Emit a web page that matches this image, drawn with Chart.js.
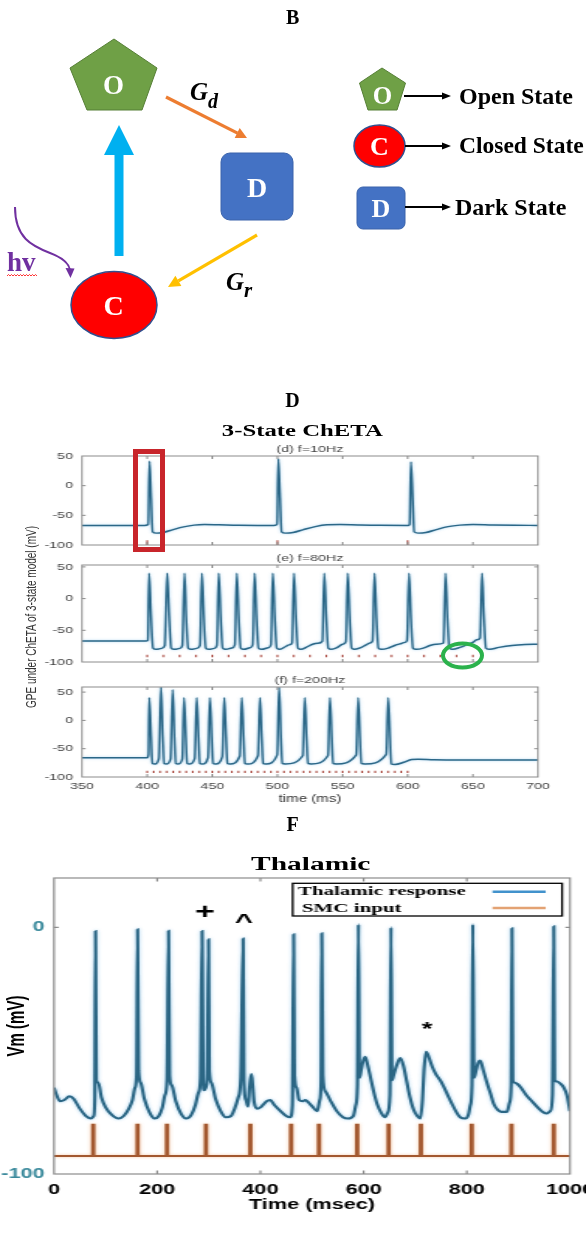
<!DOCTYPE html>
<html>
<head>
<meta charset="utf-8">
<script src="https://cdn.jsdelivr.net/npm/chart.js@4.4.1/dist/chart.umd.min.js"></script>
<style>
  html, body { margin:0; padding:0; background:#fff; }
  #page { position:relative; width:586px; height:1243px; overflow:hidden; background:#fff; }
  #page canvas { position:absolute; left:0; transform-origin:0 0; }
  #overlay { position:absolute; left:0; top:0; pointer-events:none; }
</style>
</head>
<body>
<div id="page">
  <canvas id="c10" width="390" height="112" style="top:440px;transform:scaleX(1.5)"></canvas>
  <canvas id="c80" width="390" height="121" style="top:548px;transform:scaleX(1.5)"></canvas>
  <canvas id="c200" width="390" height="139" style="top:669px;transform:scaleX(1.5)"></canvas>
  <canvas id="cth" width="378" height="385" style="top:840px;transform:scaleX(1.55)"></canvas>

  <svg id="overlay" width="586" height="1243" viewBox="0 0 586 1243" xmlns="http://www.w3.org/2000/svg">
    <g font-family="'Liberation Serif','Times New Roman',serif" font-weight="bold">
      <text x="292.6" y="23.5" font-size="20" text-anchor="middle">B</text>
      <text x="292.6" y="407" font-size="20" text-anchor="middle">D</text>
      <text x="292.6" y="831" font-size="20" text-anchor="middle">F</text>

      <!-- state diagram -->
      <polygon points="114,39 157,68 142,110 87,110 70,68" fill="#6fa046" stroke="#557f35" stroke-width="1"/>
      <text x="113.5" y="93.5" font-size="27" fill="#fff" text-anchor="middle">O</text>
      <line x1="166" y1="97" x2="237.5" y2="133.1" stroke="#ed7d31" stroke-width="3.2"/>
      <polygon points="247,138 234.7,137.9 239.7,128.1" fill="#ed7d31"/>
      <text x="190" y="100" font-size="25" font-style="italic">G<tspan font-size="20" dy="8">d</tspan></text>

      <rect x="221" y="153" width="72" height="67" rx="9" fill="#4472c4" stroke="#3a63ab" stroke-width="1"/>
      <text x="257" y="196.5" font-size="28" fill="#fff" text-anchor="middle">D</text>
      <line x1="257" y1="235" x2="178.4" y2="280.9" stroke="#ffc000" stroke-width="3.2"/>
      <polygon points="168,287 175.4,275.8 181.4,286.1" fill="#ffc000"/>
      <text x="226" y="290" font-size="25" font-style="italic">G<tspan font-size="21" dy="7">r</tspan></text>

      <polygon points="114.5,256 114.5,155 104,155 119,125 134,155 123.5,155 123.5,256" fill="#00b0f0"/>
      <ellipse cx="114" cy="305" rx="43" ry="33.5" fill="#ff0000" stroke="#2f4f8f" stroke-width="1.5"/>
      <text x="113.5" y="315" font-size="28" fill="#fff" text-anchor="middle">C</text>

      <path d="M15,207 C15,238 32,246 50,253 C63,258 69,263 70,270" fill="none" stroke="#7030a0" stroke-width="2"/>
      <polygon points="65.5,268 74.5,268.5 70.5,278" fill="#7030a0"/>
      <text x="7" y="271" font-size="27" fill="#7030a0">hv</text>
      <path d="M7,276 l1.5,-1.5 l1.5,1.5 l1.5,-1.5 l1.5,1.5 l1.5,-1.5 l1.5,1.5 l1.5,-1.5 l1.5,1.5 l1.5,-1.5 l1.5,1.5 l1.5,-1.5 l1.5,1.5 l1.5,-1.5 l1.5,1.5 l1.5,-1.5 l1.5,1.5 l1.5,-1.5 l1.5,1.5 l1.5,-1.5 l1.5,1.5" fill="none" stroke="#ff0000" stroke-width="0.8"/>

      <!-- diagram legend -->
      <polygon points="382,68 405.5,83 397,110 368,110 359.5,83" fill="#6fa046" stroke="#557f35" stroke-width="1"/>
      <text x="382.5" y="104" font-size="25" fill="#fff" text-anchor="middle">O</text>
      <line x1="404" y1="96" x2="443" y2="96" stroke="#000" stroke-width="2"/>
      <polygon points="442,92.5 451,96 442,99.5" fill="#000"/>
      <text x="459" y="104" font-size="24">Open State</text>

      <ellipse cx="379.5" cy="146" rx="25.5" ry="21" fill="#ff0000" stroke="#2f4f8f" stroke-width="1.5"/>
      <text x="379.5" y="155" font-size="26" fill="#fff" text-anchor="middle">C</text>
      <line x1="405" y1="146" x2="443" y2="146" stroke="#000" stroke-width="2"/>
      <polygon points="442,142.5 451,146 442,149.5" fill="#000"/>
      <text x="459" y="153.3" font-size="23.5">Closed State</text>

      <rect x="357" y="187" width="48" height="42" rx="6" fill="#4472c4" stroke="#3a63ab" stroke-width="1"/>
      <text x="381" y="217" font-size="26" fill="#fff" text-anchor="middle">D</text>
      <line x1="405" y1="207" x2="443" y2="207" stroke="#000" stroke-width="2"/>
      <polygon points="442,203.5 451,207 442,210.5" fill="#000"/>
      <text x="455" y="215" font-size="24">Dark State</text>

      <!-- chart titles -->
      <text transform="translate(302.3,436) scale(1.5,1)" text-anchor="middle" font-size="16.5">3-State ChETA</text>
      <text transform="translate(310.7,870) scale(1.55,1)" text-anchor="middle" font-size="19">Thalamic</text>
    </g>
    <g font-family="'Liberation Sans',Arial,sans-serif">
      <text transform="translate(31,617) scale(1.5,1) rotate(-90)" text-anchor="middle" dominant-baseline="central" font-size="10" fill="#333">GPE under ChETA of 3-state model (mV)</text>
      <text transform="translate(16,1026) scale(1.55,1) rotate(-90)" text-anchor="middle" dominant-baseline="central" font-size="15" font-weight="bold" fill="#000">Vm (mV)</text>
    </g>
    <!-- highlight marks -->
    <rect x="135.5" y="451.5" width="27" height="98" fill="none" stroke="#c8252b" stroke-width="5"/>
    <ellipse cx="462.5" cy="655.5" rx="19.5" ry="12" fill="none" stroke="#2bb24c" stroke-width="4"/>
  </svg>
</div>

<script>
// ================= DATA =================
// Panel D: tick labels
const dTimeTicks = [350, 400, 450, 500, 550, 600, 650, 700];
const dVoltTicks = [-100, -50, 0, 50];

// (d) f = 10 Hz  [time ms, Vm mV]
const trace10Hz = [
  [350,-67],[398,-67],[400.8,-65],[401.8,41],[403,-20],[404.2,-78],[407,-80],[412,-79],
  [420,-74],[428,-69.5],[436,-66.5],[444,-65.5],[455,-66],[470,-66.8],[485,-67],[497.5,-67],
  [499.7,-65],[500.7,45],[502,-20],[503.2,-78],[506,-80],[512,-79],[520,-74],[529,-69],
  [538,-66],[548,-65.5],[562,-66.2],[578,-66.8],[600.5,-67],[601.5,-65],[602.5,40],[603.8,-20],
  [605,-78],[608,-80],[614,-79],[622,-74],[631,-69],[640,-66.5],[650,-65.5],[665,-66.3],
  [682,-66.8],[700,-67]
];
const stim10Hz = [400, 500, 600];

// (e) f = 80 Hz
const trace80Hz = [
  [350,-67],[399,-67],[400.5,-66],[401.5,40],[403,-30],[404.5,-78],[407,-80],[411,-78.5],[413.5,-74],
  [415.4,40],[417,-30],[418.5,-78],[421,-80],[425,-78.5],[427,-74],
  [428.7,40],[430,-30],[431.5,-78],[434,-80],[438,-78.5],[440.5,-74],
  [442,40],[443.5,-30],[445,-78],[447.5,-80],[451.5,-78.5],[453.5,-74],
  [455,40],[456.5,-30],[458,-78],[460.5,-80],[465,-78],[467.3,-73],
  [468.8,40],[470.3,-30],[471.8,-78],[474.3,-80],[479,-77.5],[481,-73],
  [482.5,40],[484,-30],[485.5,-78],[488,-80],[493,-77.5],[495,-73],
  [496.5,40],[498,-30],[499.5,-78],[502,-80],[506,-76],[509,-73],[511.2,-70],
  [512.7,40],[514.2,-30],[515.7,-78],[518.2,-80],[522,-77],[527,-72],[531,-70.5],[534.5,-67],
  [536,40],[537.5,-30],[539,-78],[541.5,-80],[546,-77],[550,-72],[552.5,-68],
  [554,40],[555.5,-30],[557,-78],[559.5,-80],[564,-77.5],[568,-73],[571,-70],[573,-67],
  [574.5,40],[576,-30],[577.5,-78],[580,-80],[585,-78],[590,-74],[594,-71.5],[598,-69],[599.5,-66],
  [601,40],[602.5,-30],[604,-78],[606.5,-80],[612,-78],[617,-74],[622,-72],[627.5,-70],
  [629,40],[630.5,-30],[632,-78],[634.5,-80],[640,-77],[645,-73],[650,-69],[653,-65],[655.5,-62],
  [657,40],[658.5,-30],[660,-78],[663,-80],[670,-77],[680,-74],[690,-72.5],[700,-72]
];
const stim80Hz = [400, 412.5, 425, 437.5, 450, 462.5, 475, 487.5, 500, 512.5, 525,
                  537.5, 550, 562.5, 575, 587.5, 600, 612.5, 625, 637.5, 650];

// (f) f = 200 Hz
const trace200Hz = [
  [350,-66],[400,-66],[401,-60],[401.6,40],[403,-30],[404,-76],[406,-77],[409,-67],
  [410.6,59],[412,-30],[413,-76],[415,-77],[418,-68],
  [419.6,54],[421,-30],[422,-76],[424,-77],[427,-68],
  [428.3,40],[429.7,-30],[430.7,-76],[432.7,-77],[436.5,-67],
  [438,40],[439.4,-30],[440.4,-76],[442.4,-77],[446.7,-66],
  [448.2,40],[449.6,-30],[450.6,-76],[452.6,-77],[457.7,-64],
  [459.2,40],[460.6,-30],[461.6,-76],[463.6,-77],[471.1,-63],
  [472.6,40],[474,-30],[475,-76],[477,-77],[485.1,-62],
  [486.6,40],[488,-30],[489,-76],[491,-77],[499.8,-61],
  [501.3,59],[502.7,-30],[503.7,-76],[506,-77],[519.5,-62],
  [521,40],[522.4,-30],[523.4,-76],[526,-77],[538.8,-62],
  [540.3,40],[541.7,-30],[542.7,-76],[545,-77],[560.5,-61],
  [562,40],[563.4,-30],[564.4,-76],[567,-77],[583.5,-60],
  [585,40],[586.4,-30],[587.4,-77],[590,-78],[597,-74],[603,-69],[608,-68.5],[620,-69.5],
  [640,-70],[670,-70],[700,-70]
];
const stim200Hz = [400,405,410,415,420,425,430,435,440,445,450,455,460,465,470,475,480,485,490,495,
                   500,505,510,515,520,525,530,535,540,545,550,555,560,565,570,575,580,585,590,595,600];

// stimulus mark extents [from, to] in mV
const stimSpan10 = [-100, -92];
const stimSpan80 = [-92.5, -88.5];
const stimSpan200 = [-93, -89];

// Panel F
const fTimeTicks = [0, 200, 400, 600, 800, 1000];
const fVoltTicks = [-100, 0];
const thalamicTrace = [
  [0,-65],[5,-68],[12,-70.5],[20,-70],[30,-68.5],[38,-69.5],[50,-73.5],[62,-76.5],[72,-77.5],[77,-76.5],
  [79,-70],[80.5,-1.5],[82,-62],[86,-63],[92,-69],[100,-73],[112,-76],[125,-77.5],[135,-76.5],[145,-73.5],
  [152,-70],[157,-65],[160,-60],[162,-0.8],[164,-58],[168,-63],[175,-69.5],[185,-75],[195,-77.5],[203,-76.5],
  [210,-73],[215,-68],[219,-62],[222,-1.4],[224,-60],[228,-64],[236,-70.5],[246,-75.5],[256,-77.5],[266,-76],
  [274,-72],[280,-67],[284,-61],[287,-1.5],[289,-62],[291,-66],[294,-65],[297,-60],[299.5,-4.9],[301,-58],
  [305,-63],[313,-69.5],[323,-74.5],[333,-77],[343,-76.5],[350,-73.5],[357,-69],[362,-61],[366.5,-4.5],[368,-62],
  [372,-70],[376,-72.7],[379,-65],[382.5,-59.5],[385,-64],[388,-71],[394,-73.5],[400,-73],[405,-72],[412,-70.5],
  [419,-70],[427,-72],[439,-74.5],[450,-76.5],[458,-77],[462,-72],[464.5,-2.8],[466,-60],[470,-65],[475,-70],
  [482,-70.5],[487,-70],[493,-71],[500,-72.5],[510,-74.5],[515,-70],[517.5,-63],[519,-2.4],[521,-60],[526,-66.5],
  [535,-70],[548,-74.5],[560,-77],[570,-77.5],[580,-76.5],[585,-72],[588,-64],[590,1.2],[592,-61],[595,-58],
  [598,-55],[603,-52.5],[608,-56],[613,-60.5],[620,-67],[626,-71.5],[635,-75.5],[642,-77],[647,-75],[651,-68],
  [653,0],[655,-62],[658,-60],[664,-56],[671,-53],[677,-56],[684,-63],[690,-69],[697,-74],[704,-76.5],
  [710,-77.5],[714,-70],[717,-58],[721,-50.5],[727,-53],[733,-56.5],[740,-59.5],[745,-61],[750,-62.5],[755,-64.5],
  [763,-68],[771,-71.5],[780,-75],[787,-77],[797,-77.5],[803,-76],[807,-72],[810,-64],[811.6,1.2],[814,-61],
  [818,-58],[822,-55],[826,-54],[832,-58],[839,-63],[846,-67.5],[852,-71.5],[860,-74],[867,-74.8],[878,-74.8],
  [883,-71],[886,-64],[887.5,-0.4],[889,-62],[893,-63],[898,-63.5],[905,-65],[915,-68],[924,-70],[935,-72.5],
  [945,-74.5],[954,-75.5],[962,-74.5],[966,-68],[968.6,0.4],[970,-62],[975,-62.5],[982,-63.5],[988,-65],[994,-68],
  [1000,-74.5]
];
const smcPulseTimes = [76, 162, 219, 294.5, 380.5, 459.5, 513.5, 587.5, 648.5, 711, 809.5, 886.5, 968.5];
const smcBaseline = -92.7;   // mV
const smcPulseTop = -80;     // mV
const thalamicMarks = [['+', 292.6, 5.8], ['^', 368.2, 2.1], ['*', 722.9, -41.7]];

// ================= STYLE / HELPERS =================
Chart.defaults.font.family = '"Liberation Sans", Arial, sans-serif';
const TRACE_D = '#2b6787';
const STIM_D = '#a8463c';
const TRACE_F = '#2b6684';
const SMC_F = '#a3582f';

const pts = arr => arr.map(([x, y]) => ({x, y}));
const stimPts = (times, span) => {
  const out = [];
  times.forEach(t => { out.push({x: t, y: span[0]}, {x: t, y: span[1]}, {x: t, y: null}); });
  return out;
};
const plainLabel = v => String(v);

// soft halo around the traces (the source image is blurred)
const glowPlugin = {
  id: 'glow',
  beforeDatasetDraw(chart, args, o) {
    const ds = chart.data.datasets[args.index];
    if (!ds.glow) return;
    chart.ctx.save();
    chart.ctx.shadowColor = ds.glow;
    chart.ctx.shadowBlur = o.blur || 3;
  },
  afterDatasetDraw(chart, args) {
    const ds = chart.data.datasets[args.index];
    if (!ds.glow) return;
    chart.ctx.restore();
  }
};

const framePlugin = {
  id: 'frame',
  afterDatasetsDraw(chart, args, o) {
    const {ctx, chartArea: a, scales: {x, y}} = chart;
    ctx.save();
    ctx.strokeStyle = o.color; ctx.lineWidth = o.lineWidth;
    ctx.strokeRect(a.left, a.top, a.right - a.left, a.bottom - a.top);
    ctx.beginPath();
    o.xTicks.forEach(v => {
      const p = x.getPixelForValue(v);
      if (p <= a.left + 0.5 || p >= a.right - 0.5) return;
      ctx.moveTo(p, a.bottom); ctx.lineTo(p, a.bottom - o.xLen);
      ctx.moveTo(p, a.top); ctx.lineTo(p, a.top + o.xLen);
    });
    o.yTicks.forEach(v => {
      const p = y.getPixelForValue(v);
      if (p <= a.top + 0.5 || p >= a.bottom - 0.5) return;
      ctx.moveTo(a.left, p); ctx.lineTo(a.left + o.yLen, p);
      ctx.moveTo(a.right, p); ctx.lineTo(a.right - o.yLen, p);
    });
    ctx.stroke();
    if (o.title) {
      ctx.fillStyle = o.titleColor; ctx.font = o.titleFont;
      ctx.textAlign = 'center'; ctx.textBaseline = 'middle';
      ctx.fillText(o.title, (a.left + a.right) / 2, a.top - o.titleGap);
    }
    ctx.restore();
  }
};

function voltageChart(id, trace, stims, span, yMax, title, padTop, xHeight, showX) {
  return new Chart(document.getElementById(id), {
    type: 'line',
    data: { datasets: [
      { label: 'stimulus', data: stimPts(stims, span), borderColor: STIM_D, borderWidth: 1.1,
        pointRadius: 0, spanGaps: false },
      { label: 'Vm', data: pts(trace), borderColor: TRACE_D, borderWidth: 1.45, pointRadius: 0,
        cubicInterpolationMode: 'monotone', glow: 'rgba(90,170,225,0.55)' }
    ]},
    options: {
      responsive: false, animation: false, devicePixelRatio: 1,
      layout: { padding: { top: padTop, right: 31.33, left: 0, bottom: 0 } },
      plugins: {
        legend: { display: false }, tooltip: { enabled: false },
        glow: { blur: 2.5 },
        frame: { color: '#8c8c8c', lineWidth: 1, xTicks: dTimeTicks, yTicks: dVoltTicks, xLen: 3, yLen: 2.5,
                 title, titleFont: '9.5px "Liberation Sans", Arial, sans-serif', titleColor: '#444', titleGap: 7 }
      },
      scales: {
        x: { type: 'linear', min: 350, max: 700,
             grid: { display: false, drawTicks: false }, border: { display: false },
             ticks: { display: showX, font: { size: 9.5 }, color: '#444', padding: 4, maxRotation: 0,
                      autoSkip: false, callback: plainLabel },
             title: { display: showX, text: 'time (ms)', font: { size: 10 }, color: '#333', padding: { top: 0, bottom: 2.5 } },
             afterBuildTicks: s => { s.ticks = dTimeTicks.map(v => ({value: v})); },
             afterFit: s => { s.height = xHeight; s.paddingLeft = 0; s.paddingRight = 0; } },
        y: { type: 'linear', min: -100, max: yMax,
             grid: { display: false, drawTicks: false }, border: { display: false },
             ticks: { font: { size: 9.5 }, color: '#444', padding: 6, callback: plainLabel },
             afterBuildTicks: s => { s.ticks = dVoltTicks.map(v => ({value: v})); },
             afterFit: s => { s.width = 54.67; s.paddingTop = 0; s.paddingBottom = 0; } }
      }
    },
    plugins: [glowPlugin, framePlugin]
  });
}

voltageChart('c10', trace10Hz, stim10Hz, stimSpan10, 50, '(d) f=10Hz', 16, 7, false);
voltageChart('c80', trace80Hz, stim80Hz, stimSpan80, 53, '(e) f=80Hz', 17, 7, false);
voltageChart('c200', trace200Hz, stim200Hz, stimSpan200, 59, '(f) f=200Hz', 18, 31, true);

// ---------- Panel F ----------
const smcPts = [{x: 0, y: smcBaseline}];
smcPulseTimes.forEach(t => {
  smcPts.push({x: t - 1.5, y: smcBaseline}, {x: t - 1.5, y: smcPulseTop},
              {x: t + 1.5, y: smcPulseTop}, {x: t + 1.5, y: smcBaseline});
});
smcPts.push({x: 1000, y: smcBaseline});

const cornerLegend = {
  id: 'cornerLegend',
  afterDraw(chart, args, o) {
    const {ctx, chartArea: a} = chart;
    const x1 = a.right - o.right - o.width, y1 = a.top + o.top;
    ctx.save();
    ctx.fillStyle = '#fff'; ctx.fillRect(x1, y1, o.width, o.height);
    ctx.strokeStyle = '#000'; ctx.lineWidth = 1.3; ctx.strokeRect(x1, y1, o.width, o.height);
    chart.data.datasets.forEach((ds, i) => {
      const cy = y1 + o.rows[i];
      ctx.font = o.font; ctx.fillStyle = '#000'; ctx.textBaseline = 'middle'; ctx.textAlign = 'left';
      ctx.fillText(ds.label, x1 + o.textX[i], cy);
      ctx.strokeStyle = o.colors[i]; ctx.lineWidth = 2.5;
      ctx.beginPath(); ctx.moveTo(x1 + o.lineX[0], cy); ctx.lineTo(x1 + o.lineX[1], cy); ctx.stroke();
    });
    ctx.restore();
  }
};
const markPlugin = {
  id: 'marks',
  afterDatasetsDraw(chart, args, o) {
    const {ctx, scales: {x, y}} = chart;
    ctx.save();
    ctx.fillStyle = '#000'; ctx.textAlign = 'center'; ctx.textBaseline = 'middle';
    thalamicMarks.forEach(([s, t, v]) => {
      ctx.font = o.fonts[s];
      ctx.fillText(s, x.getPixelForValue(t), y.getPixelForValue(v));
    });
    ctx.restore();
  }
};

new Chart(document.getElementById('cth'), {
  type: 'line',
  data: { datasets: [
    { label: 'Thalamic response', data: pts(thalamicTrace), borderColor: TRACE_F, borderWidth: 2.1,
      pointRadius: 0, cubicInterpolationMode: 'monotone', glow: 'rgba(90,170,225,0.6)' },
    { label: 'SMC input', data: smcPts, borderColor: SMC_F, borderWidth: 1.8, pointRadius: 0,
      glow: 'rgba(240,160,100,0.6)' }
  ]},
  options: {
    responsive: false, animation: false, devicePixelRatio: 1,
    layout: { padding: { top: 38, right: 10.26, left: 0, bottom: 0 } },
    plugins: {
      legend: { display: false }, tooltip: { enabled: false },
      glow: { blur: 3 },
      frame: { color: '#8c8c8c', lineWidth: 1.2, xTicks: fTimeTicks, yTicks: fVoltTicks, xLen: 3.5, yLen: 3, title: '' },
      cornerLegend: { right: 5.1, top: 5.3, width: 173.8, height: 32.7, rows: [8.4, 24.8], textX: [3.5, 6],
                      lineX: [128.9, 163.2], colors: ['#4192cc', '#e3a273'],
                      font: 'bold 13.5px "Liberation Serif", "Times New Roman", serif' },
      marks: { fonts: { '+': 'bold 22px "Liberation Sans", Arial', '^': 'bold 20px "Liberation Sans", Arial',
                        '*': 'bold 18px "Liberation Sans", Arial' } }
    },
    scales: {
      x: { type: 'linear', min: 0, max: 1000,
           grid: { display: false, drawTicks: false }, border: { display: false },
           ticks: { font: { size: 14, weight: 'bold' }, color: '#000', padding: 8, maxRotation: 0,
                    autoSkip: false, callback: plainLabel },
           title: { display: true, text: 'Time (msec)', font: { size: 14, weight: 'bold' }, color: '#000',
                    padding: { top: 0, bottom: 11.6 } },
           afterBuildTicks: s => { s.ticks = fTimeTicks.map(v => ({value: v})); },
           afterFit: s => { s.height = 51; s.paddingLeft = 0; s.paddingRight = 0; } },
      y: { type: 'linear', min: -100, max: 20,
           grid: { display: false, drawTicks: false }, border: { display: false },
           ticks: { font: { size: 14, weight: 'bold' }, color: '#3b8a9c', padding: 6, callback: plainLabel },
           afterBuildTicks: s => { s.ticks = fVoltTicks.map(v => ({value: v})); },
           afterFit: s => { s.width = 34.84; s.paddingTop = 0; s.paddingBottom = 0; } }
    }
  },
  plugins: [glowPlugin, framePlugin, cornerLegend, markPlugin]
});
</script>
</body>
</html>
